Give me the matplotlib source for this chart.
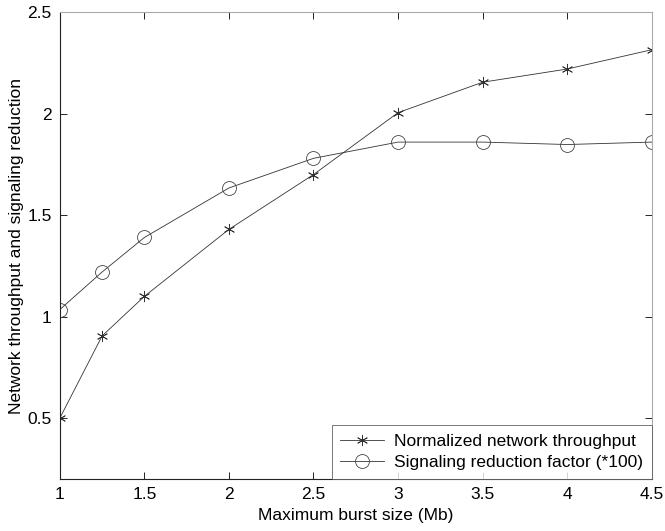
import matplotlib
matplotlib.use("Agg")
import matplotlib.pyplot as plt

plt.rcParams['font.family'] = ['Liberation Sans', 'DejaVu Sans']

burst_size = [1, 1.25, 1.5, 2, 2.5, 3, 3.5, 4, 4.5]
throughput = [0.50, 0.905, 1.10, 1.43, 1.70, 2.005, 2.155, 2.22, 2.315]
signaling = [1.035, 1.22, 1.39, 1.634, 1.78, 1.86, 1.86, 1.848, 1.86]
xticks = [1, 1.5, 2, 2.5, 3, 3.5, 4, 4.5]
yticks = [0.5, 1, 1.5, 2, 2.5]

fig = plt.figure(figsize=(6.65, 5.31), dpi=100)
ax = fig.add_axes([0.090, 0.098, 0.890, 0.879])

ax.plot(burst_size, throughput, color='#333333', lw=0.6, marker=(6, 2, 0),
        markersize=8, markeredgewidth=0.6, label='Normalized network throughput')
ax.plot(burst_size, signaling, color='#333333', lw=0.6, marker='o',
        markersize=10, markerfacecolor='none', markeredgewidth=0.6,
        markeredgecolor='#444444', label='Signaling reduction factor (*100)')

ax.set_xlim(1, 4.5)
ax.set_ylim(0.2, 2.5)
ax.set_xticks(xticks)
ax.set_xticklabels([f"{t:g}" for t in xticks])
ax.set_yticks(yticks)
ax.set_yticklabels([f"{t:g}" for t in yticks])
ax.tick_params(direction='in', top=True, right=True, labelsize=12.5, length=5,
               width=0.6, pad=6)
for s in ['left', 'bottom']:
    ax.spines[s].set_color('#222222')
    ax.spines[s].set_linewidth(0.8)
for s in ['top', 'right']:
    ax.spines[s].set_color('#aaaaaa')
    ax.spines[s].set_linewidth(0.8)

ax.set_xlabel('Maximum burst size (Mb)', fontsize=12.5, labelpad=4)
ax.set_ylabel('Network throughput and signaling reduction', fontsize=12.5, labelpad=2)

leg = ax.legend(loc='lower right', fontsize=12.5, frameon=True, fancybox=False,
                edgecolor='#555555', borderaxespad=0, handlelength=2.5,
                borderpad=0.5, labelspacing=0.35, handletextpad=0.6)
leg.get_frame().set_linewidth(0.7)

fig.savefig('out.png', dpi=100)
